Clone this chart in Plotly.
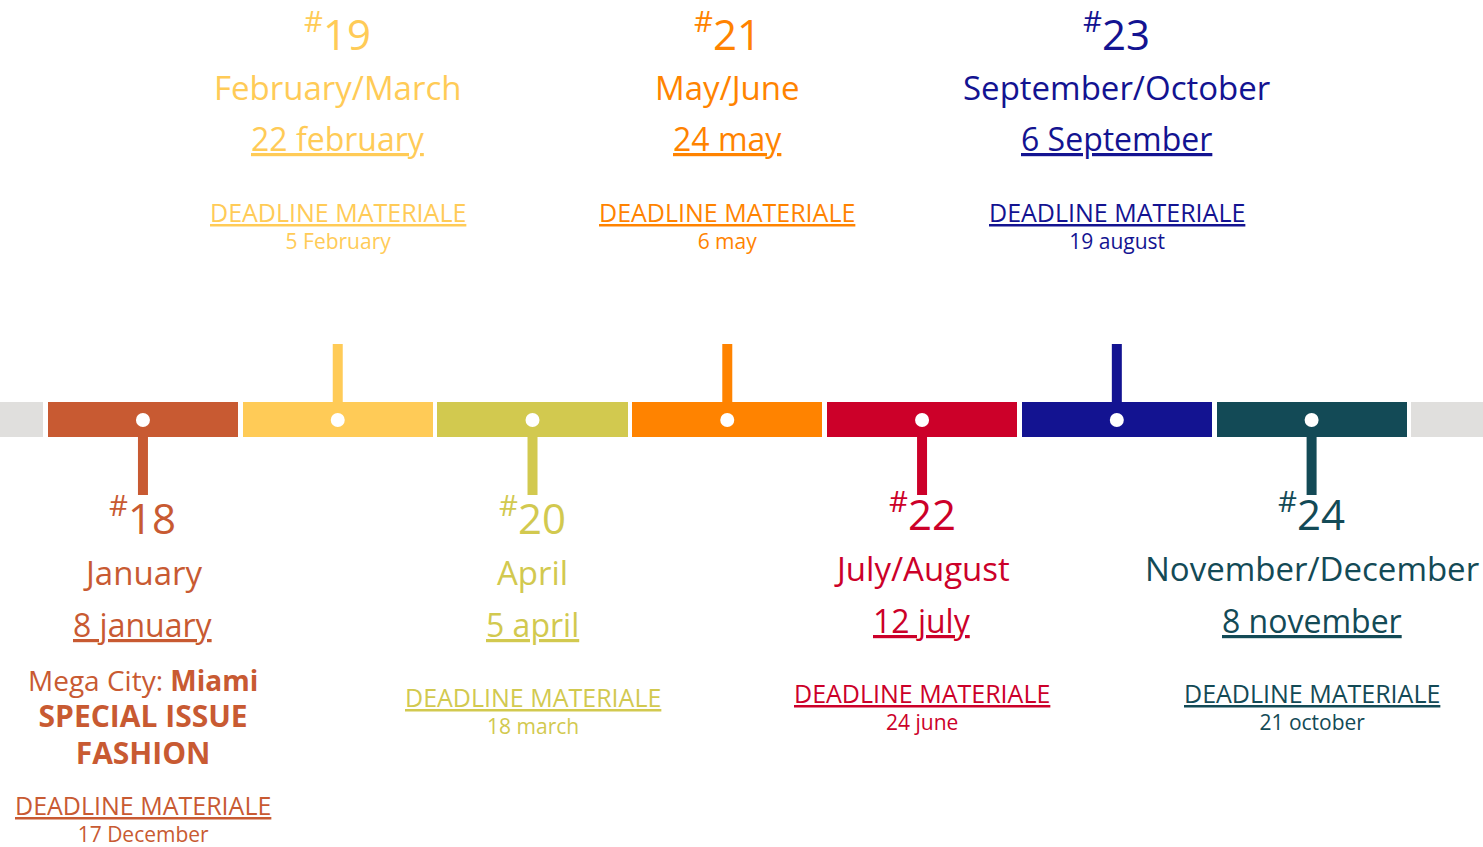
import plotly.graph_objects as go

# ---------------- data ----------------
issues = ["#18", "#19", "#20", "#21", "#22", "#23", "#24"]
months = ["January", "February/March", "April", "May/June", "July/August",
          "September/October", "November/December"]
pub_dates = ["8 january", "22 february", "5 april", "24 may", "12 july",
             "6 September", "8 november"]
deadline_label = "DEADLINE MATERIALE"
deadline_dates = ["17 December", "5 February", "18 march", "6 may", "24 june",
                  "19 august", "21 october"]
colors = ["#C85A32", "#FFCB57", "#D2C94F", "#FF8300", "#CC0029", "#131391", "#134A56"]
sides = ["down", "up", "down", "up", "down", "up", "down"]
extra_18 = ["Mega City: <b>Miami</b>", "<b>SPECIAL ISSUE</b>", "<b>FASHION</b>"]
edge_color = "#E0DFDD"

# ---------------- layout constants ----------------
FONT = "Open Sans"
W, H = 1483, 847
BAR_TOP, BAR_BOT = 402, 437
DOT_Y = 420
STEM_UP_END, STEM_DOWN_END = 344, 495
XMIN, XMAX = -0.734, 6.88
BAR_W = 0.976

idx = list(range(len(issues)))

fig = go.Figure()

# grey edge segments (clipped by axis range)
fig.add_trace(go.Bar(x=[-1, len(issues)], y=[BAR_BOT - BAR_TOP] * 2, base=[BAR_TOP] * 2,
                     width=BAR_W, marker=dict(color=edge_color, line_width=0),
                     hoverinfo="skip", showlegend=False))
# coloured month segments
fig.add_trace(go.Bar(x=idx, y=[BAR_BOT - BAR_TOP] * len(idx), base=[BAR_TOP] * len(idx),
                     width=BAR_W, marker=dict(color=colors, line_width=0),
                     hoverinfo="skip", showlegend=False))

# stems
for i, (c, s) in enumerate(zip(colors, sides)):
    y0, y1 = (BAR_TOP + 1, STEM_UP_END) if s == "up" else (BAR_BOT - 1, STEM_DOWN_END)
    fig.add_trace(go.Scatter(x=[i, i], y=[y0, y1], mode="lines",
                             line=dict(color=c, width=10), hoverinfo="skip",
                             showlegend=False))

# white dots
fig.add_trace(go.Scatter(x=idx, y=[DOT_Y] * len(idx), mode="markers",
                         marker=dict(color="white", size=14, line_width=0),
                         hoverinfo="skip", showlegend=False))

def ann(x, y, text, color, size):
    fig.add_annotation(x=x, y=y, xref="x", yref="y", text=text, showarrow=False,
                       xanchor="center", yanchor="middle",
                       font=dict(family=FONT, size=size, color=color))

top_y = dict(issue=31, month=87, date=138, dl=225)
bot_y = dict(issue=515, month=572, date=624, dl=710)
shift = {"#22": -4, "#24": -4}

for i, (iss, m, d, dd, c, s) in enumerate(zip(issues, months, pub_dates,
                                               deadline_dates, colors, sides)):
    pos = dict(top_y) if s == "up" else {k: v + shift.get(iss, 0) for k, v in bot_y.items()}
    if iss == "#18":
        pos["dl"] = 818
    ann(i, pos["issue"], "<sup>#</sup>" + iss[1:], c, 42)
    ann(i, pos["month"], m, c, 33)
    ann(i, pos["date"], "<u>" + d + "</u>", c, 32)
    ann(i, pos["dl"],
        "<span style='font-size:25px'><u>" + deadline_label + "</u></span><br>" + dd,
        c, 21)
    if iss == "#18":
        ann(i, 717,
            extra_18[0] + "<br><span style='font-size:30px'>" + extra_18[1] +
            "</span><br><span style='font-size:30px'>" + extra_18[2] + "</span>",
            c, 28)

fig.update_layout(
    width=W, height=H,
    margin=dict(l=0, r=0, t=0, b=0),
    paper_bgcolor="white", plot_bgcolor="white",
    bargap=0, barmode="overlay",
    xaxis=dict(range=[XMIN, XMAX], visible=False, fixedrange=True),
    yaxis=dict(range=[H, 0], visible=False, fixedrange=True),
)

fig.write_html("out.html", config={"displayModeBar": False},
               post_script="document.body.style.margin='0';document.body.style.overflow='hidden';")
